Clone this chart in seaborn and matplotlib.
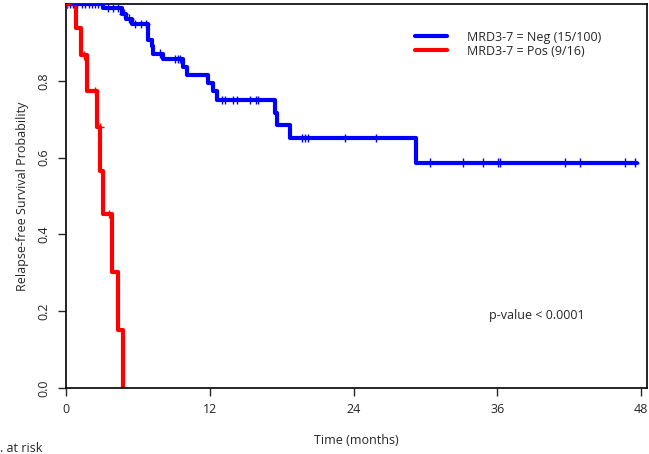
import numpy as np
import pandas as pd
import matplotlib
matplotlib.use("Agg")
import matplotlib.pyplot as plt
import seaborn as sns

# step curves (time in months, survival after the drop)
neg_times = [0, 3.11, 4.65, 5.0, 5.48, 6.86, 7.15, 7.3, 8.12, 9.79, 10.07,
             11.88, 12.3, 12.58, 17.45, 17.59, 18.66, 29.19, 47.64]
neg_surv = [1.0, 0.99, 0.975, 0.962, 0.947, 0.907, 0.89, 0.871, 0.856, 0.836,
            0.816, 0.795, 0.773, 0.751, 0.716, 0.686, 0.651, 0.587, 0.587]
neg_cens = [0.1, 0.35, 0.6, 0.9, 1.3, 1.6, 1.9, 2.2, 2.45, 2.7, 3.0,
            3.5, 3.9, 4.3, 4.8, 5.3, 5.8, 6.3, 6.7, 7.85,
            9.1, 9.37, 9.5, 13.0, 13.27, 13.97, 14.25, 15.36, 15.9, 16.05,
            19.67, 19.95, 20.2, 23.3, 25.9,
            30.38, 33.16, 34.83, 36.09, 36.2, 41.65, 42.9, 46.66, 47.5]

pos_times = [0, 0.81, 1.25, 1.73, 2.56, 2.84, 3.06, 3.84, 4.37, 4.73]
pos_surv = [1.0, 0.9375, 0.866, 0.773, 0.68, 0.566, 0.453, 0.302, 0.151, 0.0]
pos_cens = [0.1, 1.5, 2.45, 2.8, 3.55]

groups = ["MRD3-7 = Neg (15/100)", "MRD3-7 = Pos (9/16)"]
colors = ["#0000ff", "#ff0000"]


def surv_at(times, surv, t):
    idx = np.searchsorted(times, t, side="right") - 1
    return surv[idx]


curves = pd.concat([
    pd.DataFrame({"time": neg_times, "surv": neg_surv, "group": groups[0]}),
    pd.DataFrame({"time": pos_times, "surv": pos_surv, "group": groups[1]}),
], ignore_index=True)

cens = pd.concat([
    pd.DataFrame({"time": neg_cens,
                  "surv": [surv_at(neg_times, neg_surv, t) for t in neg_cens],
                  "group": groups[0]}),
    pd.DataFrame({"time": pos_cens,
                  "surv": [surv_at(pos_times, pos_surv, t) for t in pos_cens],
                  "group": groups[1]}),
], ignore_index=True)

sns.set_style("ticks")
plt.rcParams["font.family"] = ["Open Sans", "DejaVu Sans"]

fig = plt.figure(figsize=(6.49, 4.54), dpi=100)
ax = fig.add_axes([66 / 649, 1 - 388 / 454, 581 / 649, 384 / 454])

pal = dict(zip(groups, colors))
sns.lineplot(data=curves, x="time", y="surv", hue="group", palette=pal,
             estimator=None, sort=False, drawstyle="steps-post",
             linewidth=3, ax=ax)
sns.scatterplot(data=cens, x="time", y="surv", hue="group", palette=pal,
                marker="+", s=35, linewidth=1.0, legend=False, ax=ax, zorder=3)

ax.set_xlim(0, 48.5)
ax.set_ylim(0, 1)
ax.set_xticks([0, 12, 24, 36, 48])
ax.set_yticks([0.0, 0.2, 0.4, 0.6, 0.8])
ax.set_yticklabels(["0.0", "0.2", "0.4", "0.6", "0.8"], rotation=90, va="center")
ax.tick_params(direction="out", length=6, width=1, labelsize=9, pad=5)
for sp in ax.spines.values():
    sp.set_visible(True)
    sp.set_linewidth(1.2)
    sp.set_color("black")

ax.set_xlabel("Time (months)", fontsize=9, labelpad=13)
ax.set_ylabel("Relapse-free Survival Probability", fontsize=9, labelpad=6)

handles, labels = ax.get_legend_handles_labels()
ax.legend(handles, labels, frameon=False, fontsize=9,
          loc="upper left", bbox_to_anchor=(0.582, 0.96),
          handlelength=2.5, handletextpad=1.6, labelspacing=0.1)

ax.text(0.81, 0.19, "p-value < 0.0001", transform=ax.transAxes,
        ha="center", va="center", fontsize=9)
fig.text(0.0, 1 - 448 / 454, ". at risk", ha="left", va="center", fontsize=9)

fig.savefig("out.png", dpi=100)
